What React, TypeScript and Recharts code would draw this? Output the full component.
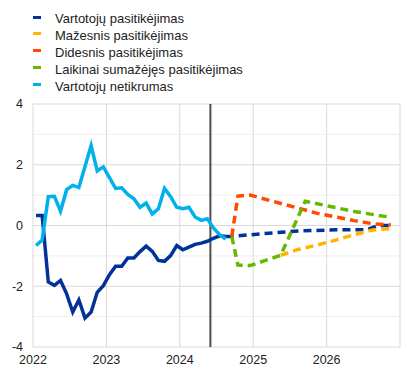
import { LineChart, Line, XAxis, YAxis, CartesianGrid, ReferenceLine } from 'recharts'

// monthly observations, Jan 2022 – Aug 2024
const histStartYear = 2022
const confidence = [
  0.33, 0.33, -1.86, -1.97, -1.81, -2.25, -2.85, -2.45, -3.05, -2.85, -2.2, -1.98,
  -1.62, -1.34, -1.34, -1.07, -1.07, -0.86, -0.68, -0.85, -1.15, -1.18, -0.99, -0.66,
  -0.8, -0.71, -0.62, -0.58, -0.52, -0.42, -0.34, -0.36,
]
const uncertainty = [
  -0.66, -0.48, 0.95, 0.96, 0.47, 1.18, 1.32, 1.25, 1.94, 2.63, 1.8, 1.93,
  1.58, 1.22, 1.24, 1.02, 0.88, 0.6, 0.74, 0.38, 0.55, 1.22, 0.95, 0.6,
  0.55, 0.6, 0.28, 0.17, 0.22, -0.08, -0.3, -0.45,
]

// scenario paths (month of each turning point)
const baseMonths = ['2024-08', '2024-09', '2025-02', '2025-08', '2026-02', '2026-07', '2026-09', '2026-11']
const baseValues = [-0.36, -0.36, -0.27, -0.18, -0.14, -0.14, 0.0, 0.0]

const lowerMonths = ['2025-05', '2025-08', '2025-11', '2026-02', '2026-05', '2026-08', '2026-11']
const lowerValues = [-0.98, -0.78, -0.64, -0.48, -0.3, -0.15, -0.1]

const higherMonths = ['2024-09', '2024-10', '2024-12', '2025-11', '2026-05', '2026-08', '2026-11']
const higherValues = [-0.36, 0.97, 1.0, 0.4, 0.16, 0.06, 0.02]

const tempMonths = ['2024-09', '2024-10', '2024-12', '2025-05', '2025-09', '2026-05', '2026-11']
const tempValues = [-0.36, -1.3, -1.32, -0.98, 0.8, 0.46, 0.27]

const projectionStart = '2024-06'

const xTicks = [2022, 2023, 2024, 2025, 2026]
const xGrid = [2022, 2023, 2024, 2025, 2026, 2027]
const yTicks = [-4, -2, 0, 2, 4]
const yMinor = [-3, -1, 1, 3]

const legendItems = [
  { name: 'Vartotojų pasitikėjimas', color: '#003299' },
  { name: 'Mažesnis pasitikėjimas', color: '#ffb400' },
  { name: 'Didesnis pasitikėjimas', color: '#ff4b00' },
  { name: 'Laikinai sumažėjęs pasitikėjimas', color: '#65b800' },
  { name: 'Vartotojų netikrumas', color: '#00b1ea' },
]

const midMonth = (m: string) => {
  const [y, mo] = m.split('-').map(Number)
  return y + (mo - 0.5) / 12
}
const monthStart = (m: string) => {
  const [y, mo] = m.split('-').map(Number)
  return y + (mo - 1) / 12
}
const monthly = (vals: number[]) => vals.map((v, i) => ({ t: histStartYear + (i + 0.5) / 12, v }))
const path = (months: string[], vals: number[]) => months.map((m, i) => ({ t: midMonth(m), v: vals[i] }))

const font = '"Liberation Sans", Arial, sans-serif'
const dash = '8 5'
const sw = 3.5

export default function App() {
  return (
    <div style={{ position: 'absolute', left: 0, top: 0, width: 413, height: 372, fontFamily: font, background: '#fff' }}>
      <div style={{ position: 'absolute', left: 0, top: 11.4, fontSize: 13, color: '#222' }}>
        {legendItems.map((it) => (
          <div key={it.name} style={{ position: 'relative', height: 16.8, lineHeight: '16.8px', whiteSpace: 'nowrap' }}>
            <span style={{ position: 'absolute', left: 33, top: 4.2, width: 8, height: 3, background: it.color }} />
            <span style={{ position: 'absolute', left: 55, top: 0 }}>{it.name}</span>
          </div>
        ))}
      </div>
      <LineChart width={413} height={372} margin={{ top: 104, right: 13, bottom: 0, left: 0 }}>
        <CartesianGrid horizontalValues={yMinor} vertical={false} stroke='#efefef' strokeWidth={1} />
        <CartesianGrid horizontalValues={yTicks} verticalValues={xGrid} stroke='#d9d9d9' strokeWidth={1} />
        <XAxis
          dataKey='t'
          type='number'
          domain={[2022, 2027]}
          ticks={xTicks}
          tickLine={false}
          axisLine={false}
          height={25}
          tick={{ fontSize: 12.5, fill: '#222', fontFamily: font }}
        />
        <YAxis
          type='number'
          domain={[-4, 4]}
          ticks={yTicks}
          tickLine={false}
          axisLine={false}
          width={33}
          tickMargin={4}
          tick={{ fontSize: 12.5, fill: '#222', fontFamily: font }}
        />
        <ReferenceLine x={monthStart(projectionStart)} stroke='#4d4d4d' strokeWidth={2} />
        <Line data={path(baseMonths, baseValues)} dataKey='v' stroke='#003299' strokeWidth={sw} strokeDasharray={dash} dot={false} isAnimationActive={false} />
        <Line data={monthly(confidence)} dataKey='v' stroke='#003299' strokeWidth={sw} dot={false} isAnimationActive={false} />
        <Line data={path(lowerMonths, lowerValues)} dataKey='v' stroke='#ffb400' strokeWidth={sw} strokeDasharray={dash} dot={false} isAnimationActive={false} />
        <Line data={path(higherMonths, higherValues)} dataKey='v' stroke='#ff4b00' strokeWidth={sw} strokeDasharray={dash} dot={false} isAnimationActive={false} />
        <Line data={path(tempMonths, tempValues)} dataKey='v' stroke='#65b800' strokeWidth={sw} strokeDasharray={dash} dot={false} isAnimationActive={false} />
        <Line data={monthly(uncertainty)} dataKey='v' stroke='#00b1ea' strokeWidth={sw} dot={false} isAnimationActive={false} />
      </LineChart>
    </div>
  )
}
